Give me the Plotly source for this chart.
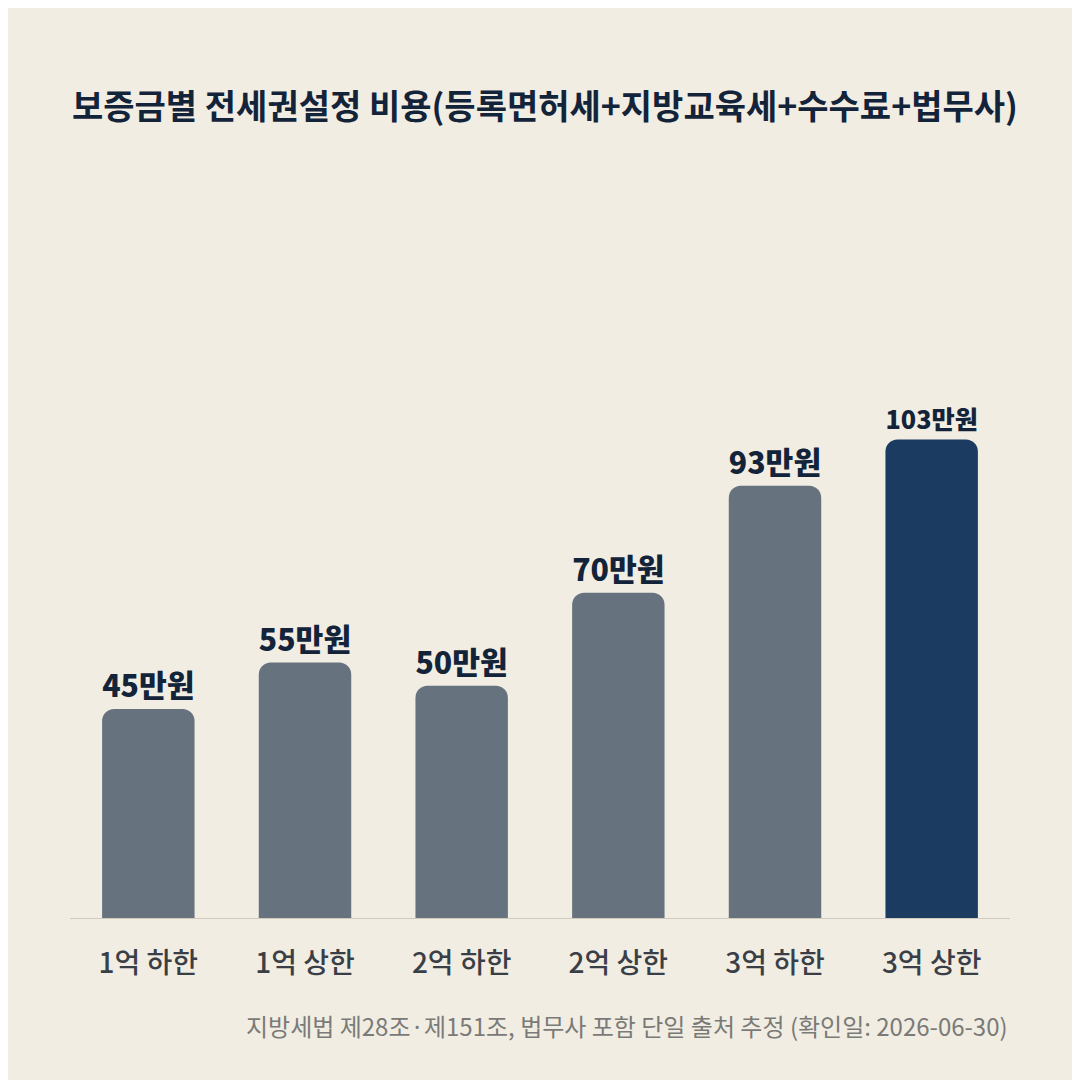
import plotly.graph_objects as go

categories = ["1억 하한", "1억 상한", "2억 하한", "2억 상한", "3억 하한", "3억 상한"]
values = [45, 55, 50, 70, 93, 103]
labels = ["45만원", "55만원", "50만원", "70만원", "93만원", "103만원"]
colors = ["#66737f"] * 5 + ["#1b3b60"]

FONT = "Noto Sans CJK KR"
PH = 618
fig = go.Figure(go.Bar(
    x=categories, y=values, text=labels, textposition="outside", cliponaxis=False,
    marker=dict(color=colors, line=dict(width=0)), width=0.59,
    textfont=dict(family=FONT, size=52, color="#13243a", weight=900),
))
fig.update_layout(
    width=1080, height=1080, barcornerradius=12,
    paper_bgcolor="#f1ede2", plot_bgcolor="rgba(0,0,0,0)",
    margin=dict(l=62, r=78, t=292, b=170), showlegend=False,
    font=dict(family=FONT),
    xaxis=dict(showgrid=False, showline=True, linecolor="#cfcabd", linewidth=1,
               tickfont=dict(size=28, color="#3a3f47", weight=500), ticks="", ticklabelstandoff=20),
    yaxis=dict(range=[0, 133], visible=False),
    annotations=[
        dict(text="<b>보증금별 전세권설정 비용(등록면허세+지방교육세+수수료+법무사)</b>",
             x=0, y=(918 - 105) / PH, xref="paper", yref="paper", xanchor="left", yanchor="middle",
             showarrow=False, font=dict(size=34, color="#13243a")),
        dict(text="지방세법 제28조·제151조, 법무사 포함 단일 출처 추정 (확인일: 2026-06-30)",
             x=1, y=-(1025 - 918) / PH, xref="paper", yref="paper", xanchor="right", yanchor="middle",
             showarrow=False, font=dict(size=24, color="#7a7a78")),
    ],
)
fig.write_html("out.html")
